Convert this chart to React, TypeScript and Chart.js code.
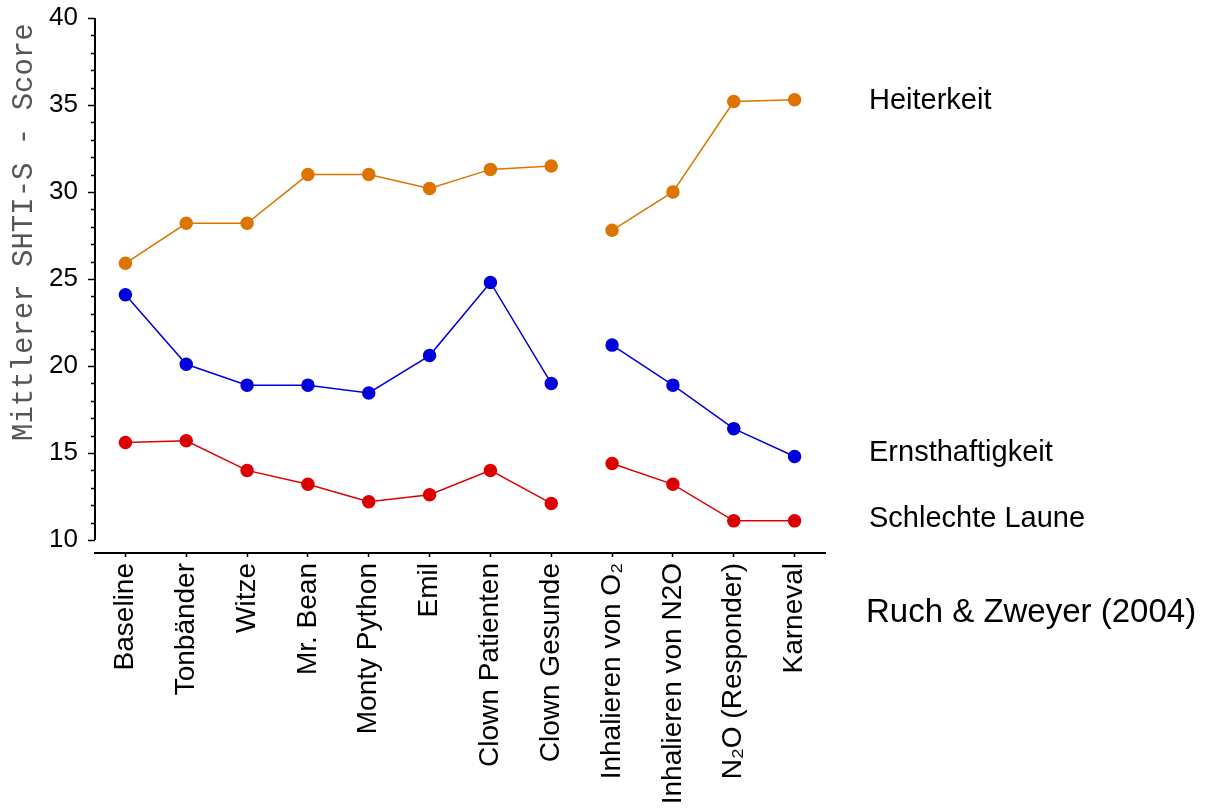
import React, { useEffect, useRef } from "react";
import { Chart, registerables } from "chart.js";

Chart.register(...registerables);

const categories: string[] = [
  "Baseline",
  "Tonbänder",
  "Witze",
  "Mr. Bean",
  "Monty Python",
  "Emil",
  "Clown Patienten",
  "Clown Gesunde",
  "Inhalieren von O₂",
  "Inhalieren von N2O",
  "N₂O (Responder)",
  "Karneval",
];

const heiterkeit: number[] = [25.9, 28.2, 28.2, 31.0, 31.0, 30.2, 31.3, 31.5, 27.8, 30.0, 35.2, 35.3];
const ernsthaftigkeit: number[] = [24.1, 20.1, 18.9, 18.9, 18.45, 20.6, 24.8, 19.0, 21.2, 18.9, 16.4, 14.8];
const schlechteLaune: number[] = [15.6, 15.7, 14.0, 13.2, 12.2, 12.6, 14.0, 12.1, 14.4, 13.2, 11.1, 11.1];

const seriesNames: string[] = ["Heiterkeit", "Ernsthaftigkeit", "Schlechte Laune"];
const seriesLabelValues: number[] = [35.25, 15.0, 11.2];
const seriesColors: string[] = ["#de7400", "#0000dd", "#dd0000"];

const yTickValues: number[] = [10, 15, 20, 25, 30, 35, 40];
const yTitle = "Mittlerer SHTI-S - Score";
const sourceText = "Ruch & Zweyer (2004)";
const gapAfterIndex = 7;

const Y_MIN = 9.253;
const Y_MAX = 40;

export default function App() {
  const canvasRef = useRef<HTMLCanvasElement | null>(null);

  useEffect(() => {
    const canvas = canvasRef.current;
    if (!canvas) return;

    const decorations = {
      id: "decorations",
      afterDraw(chart: any) {
        const ctx = chart.ctx;
        const y = chart.scales.y;
        const area = chart.chartArea;
        ctx.save();
        // y axis line
        ctx.strokeStyle = "#000";
        ctx.lineWidth = 2;
        ctx.beginPath();
        ctx.moveTo(area.left, y.getPixelForValue(10));
        ctx.lineTo(area.left, y.getPixelForValue(40));
        ctx.stroke();
        // minor ticks
        ctx.lineWidth = 1.5;
        for (let v = 10; v <= 40; v++) {
          if (v % 5 === 0) continue;
          const py = Math.round(y.getPixelForValue(v)) + 0.5;
          ctx.beginPath();
          ctx.moveTo(area.left - 4, py);
          ctx.lineTo(area.left, py);
          ctx.stroke();
        }
        // y title
        ctx.save();
        ctx.translate(32, 441);
        ctx.rotate(-Math.PI / 2);
        ctx.font = '29px "Liberation Mono", "DejaVu Sans Mono", monospace';
        ctx.fillStyle = "#555";
        ctx.textAlign = "left";
        ctx.textBaseline = "alphabetic";
        ctx.fillText(yTitle, 0, 0);
        ctx.restore();
        // series labels
        ctx.font = '29px "Liberation Sans", Arial, sans-serif';
        ctx.fillStyle = "#000";
        ctx.textAlign = "left";
        ctx.textBaseline = "middle";
        seriesNames.forEach((n, i) => {
          ctx.fillText(n, 869, y.getPixelForValue(seriesLabelValues[i]));
        });
        ctx.font = '33px "Liberation Sans", Arial, sans-serif';
        ctx.fillText(sourceText, 866, 613);
        ctx.restore();
      },
    };

    const makeDataset = (label: string, data: number[], color: string) => ({
      label,
      data,
      borderColor: color,
      backgroundColor: color,
      pointBackgroundColor: color,
      pointBorderColor: color,
      pointRadius: 6,
      pointHoverRadius: 6,
      borderWidth: 1.5,
      tension: 0,
      segment: {
        borderColor: (ctx: any) => (ctx.p0DataIndex === gapAfterIndex ? "rgba(0,0,0,0)" : color),
      },
    });

    const chart = new Chart(canvas, {
      type: "line",
      data: {
        labels: categories,
        datasets: [
          makeDataset(seriesNames[0], heiterkeit, seriesColors[0]),
          makeDataset(seriesNames[1], ernsthaftigkeit, seriesColors[1]),
          makeDataset(seriesNames[2], schlechteLaune, seriesColors[2]),
        ],
      },
      options: {
        responsive: false,
        animation: false,
        events: [],
        layout: { padding: { top: 18, right: 382, left: 0, bottom: 0 } },
        plugins: {
          legend: { display: false },
          tooltip: { enabled: false },
          title: { display: false },
        },
        scales: {
          x: {
            type: "category",
            offset: true,
            grid: {
              display: true,
              drawOnChartArea: false,
              drawTicks: true,
              tickLength: 4,
              tickColor: "#000",
              tickWidth: 1.5,
            },
            border: { display: true, color: "#000", width: 2 },
            ticks: {
              autoSkip: false,
              maxRotation: 90,
              minRotation: 90,
              padding: 6,
              color: "#000",
              font: { family: '"Liberation Sans", Arial, sans-serif', size: 28 },
            },
            afterFit: (scale: any) => {
              scale.height = 811 - 553;
              scale.paddingLeft = 0;
              scale.paddingRight = 0;
            },
          },
          y: {
            type: "linear",
            min: Y_MIN,
            max: Y_MAX,
            afterBuildTicks: (scale: any) => {
              scale.ticks = yTickValues.map((v) => ({ value: v }));
            },
            grid: {
              display: true,
              drawOnChartArea: false,
              drawTicks: true,
              tickLength: 7,
              tickColor: "#000",
              tickWidth: 1.5,
            },
            border: { display: false },
            ticks: {
              padding: 10,
              color: "#000",
              font: { family: '"Liberation Sans", Arial, sans-serif', size: 26 },
            },
            afterFit: (scale: any) => {
              scale.width = 95;
              scale.paddingTop = 0;
              scale.paddingBottom = 0;
            },
          },
        },
      },
      plugins: [decorations],
    } as any);

    return () => chart.destroy();
  }, []);

  return (
    <div style={{ position: "fixed", left: 0, top: 0, width: 1207, height: 811, background: "#fff" }}>
      <canvas ref={canvasRef} width={1207} height={811} style={{ width: 1207, height: 811 }} />
    </div>
  );
}
